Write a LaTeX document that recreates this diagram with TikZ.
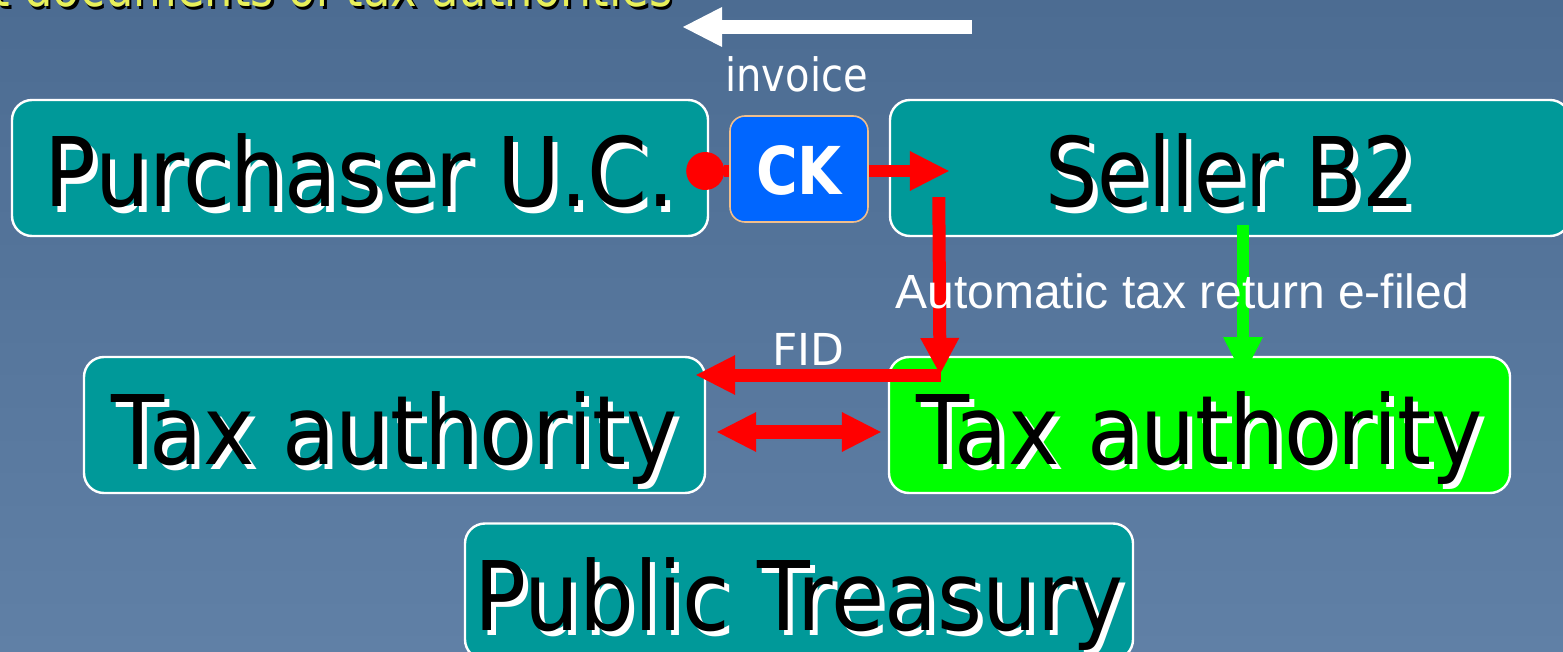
\documentclass[tikz,border=0pt]{standalone}
\usepackage{fontspec}
\setmainfont{DejaVu Sans}
\newfontfamily\arialf{Liberation Sans}
\usetikzlibrary{arrows.meta}
\definecolor{bgtop}{RGB}{76,108,146}
\definecolor{bgbot}{RGB}{96,128,166}
\definecolor{tealbox}{RGB}{0,153,153}
\definecolor{greenbox}{RGB}{0,255,0}
\definecolor{ckblue}{RGB}{0,102,255}
\definecolor{ckborder}{RGB}{240,190,140}
\definecolor{yellowtxt}{RGB}{232,240,90}
% #1 shadow colour, #2 horizontal squeeze, #3 shadow offset, #4 text
\newcommand\shtext[4]{\leavevmode\rlap{\kern#3\raisebox{-#3}{\textcolor{#1}{\scalebox{#2}[1]{#4}}}}\scalebox{#2}[1]{#4}}
\tikzset{
  box/.style={draw=white, line width=1.2pt, rounded corners=10pt, fill=tealbox,
    inner sep=0pt, text height=53.5pt, text depth=14.5pt, minimum width=#1,
    font=\fontsize{48}{56}\selectfont, text=black},
  ckbox/.style={draw=ckborder, line width=0.8pt, rounded corners=7.5pt, fill=ckblue,
    inner sep=0pt, text height=39.5pt, text depth=13.5pt, minimum width=69pt,
    font=\bfseries\fontsize{33}{40}\selectfont, text=white},
  lbl/.style={inner sep=0pt, text=white, font=\fontsize{#1}{#1}\selectfont},
  fat/.style={line width=6.5pt},
  bigtip/.tip={Triangle[length=19.5pt,width=20pt,line width=0pt]},
  dot/.tip={Circle[length=19pt,line width=0pt]}
}
\begin{document}
\begin{tikzpicture}[x=0.5pt,y=-0.5pt]
\useasboundingbox (0,0) rectangle (1563,652);
\begin{scope}
\clip (0,0) rectangle (1563,652);
\shade[top color=bgtop, bottom color=bgbot] (0,0) rectangle (1563,652);

% cut-off title
\node (title) [anchor=base east, inner sep=0pt, text=yellowtxt, font=\fontsize{27}{31}\selectfont]
  at (673,7) {\shtext{black}{0.83}{1.2pt}{t documents of tax authorities}};

% white arrow and invoice label
\coordinate (wa1) at (972,27);
\coordinate (wa2) at (683,27);
\draw[white, line width=7pt, -bigtip] (wa1) -- (wa2);
\node (inv) [lbl=23, anchor=base west] at (725,92) {\scalebox{0.87}[1]{invoice}};

% boxes
\node (purch) [box=348pt] at (360,168) {\shtext{white}{0.895}{2.5pt}{Purchaser U.C.}};
\node (seller) [box=340pt] at (1230,168) {\shtext{white}{0.86}{2.5pt}{Seller B2}};
\node (taxL) [box=310.5pt] at (394.5,425) {\shtext{white}{0.905}{2.5pt}{Tax authority}};
\node (taxR) [box=310.5pt, fill=greenbox] at (1199.5,425) {\shtext{white}{0.905}{2.5pt}{Tax authority}};
\node (treas) [box=334pt] at (799,591.5) {\shtext{white}{0.9}{2.5pt}{Public Treasury}};

% green arrow
\coordinate (g1) at (1243,225);
\coordinate (g2) at (1243,376);
\draw[greenbox, line width=6pt, -bigtip] (g1) -- (g2);

% purchaser -> seller (through CK)
\draw[red, line width=6pt, dot-bigtip]
  ([shift={(-11.5pt,-1.5pt)}]purch.east) -- ([shift={(30pt,-1.5pt)}]seller.west);
\node (ck) [ckbox] at (799,169) {\scalebox{0.86}[1]{CK}};

% seller -> tax authority (right) -> tax authority (left)
\coordinate (corner) at (940,374);
\draw[red, fat, -{Triangle[length=18pt,width=19.5pt,line width=0pt]}]
  ([shift={(25pt,20pt)}]seller.south west) -- (corner);
\draw[red, fat, -bigtip] ([xshift=0.5pt,yshift=-0.5pt]corner) -- ([shift={(-5pt,25pt)}]taxL.east);

% double arrow
\draw[red, line width=7pt, bigtip-bigtip]
  ([shift={(5.5pt,-3.5pt)}]taxL.east) -- ([shift={(-3.5pt,-3.5pt)}]taxR.west);

% labels
\node (auto) [anchor=base west, inner sep=0pt, text=white, font=\arialf\fontsize{24}{29}\selectfont]
  at (895,308) {Automatic tax return e-filed};
\node (fid) [lbl=22, anchor=base west] at (772,365) {FID};
\end{scope}
\end{tikzpicture}
\end{document}
